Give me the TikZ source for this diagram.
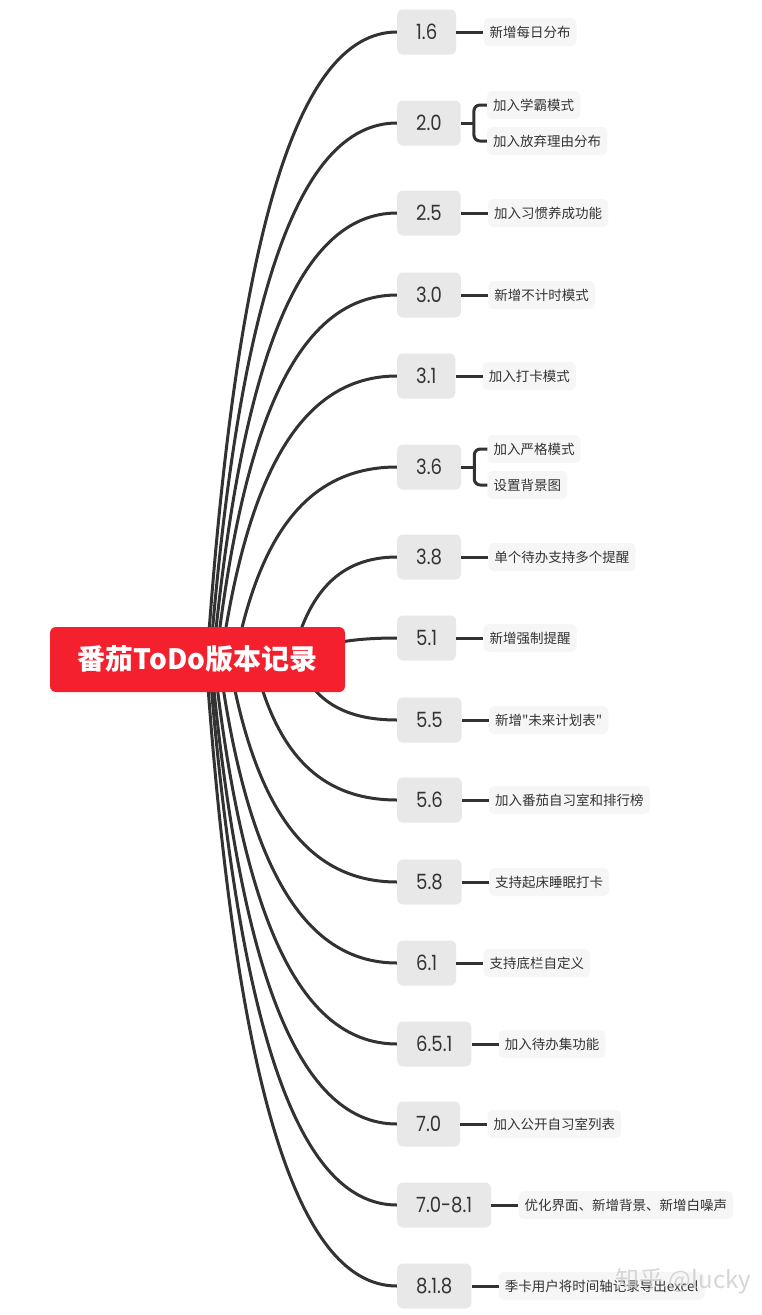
\documentclass[tikz,border=0pt]{standalone}
\usepackage{fontspec}
\newfontfamily\verfont{Poppins}[FakeStretch=0.86]
\newfontfamily\cjk{Noto Sans CJK SC}
\usetikzlibrary{positioning,calc,backgrounds}

\definecolor{rootred}{HTML}{F4202E}
\definecolor{vergray}{HTML}{E8E8E8}
\definecolor{leafgray}{HTML}{F6F6F6}
\definecolor{textgray}{HTML}{333333}
\definecolor{linegray}{HTML}{323232}

% curve from inside the root to the west side of a version box
\newcommand{\verbranch}[2]{%
  \draw[branch] let \p0=(root.center), \p1=(#2.west) in
    (#1pt,\y0) .. controls ({#1pt+0.15*(\x1-#1pt)},{\y0+0.65*(\y1-\y0)})
    and ({#1pt+0.45*(\x1-#1pt)},\y1) .. (\p1);}

\begin{document}
\begin{tikzpicture}[x=1pt, y=-1pt,
    root/.style={fill=rootred, rounded corners=6pt, minimum width=295pt, minimum height=65pt, inner sep=0pt, text=white, font=\cjk\bfseries\fontsize{28}{28}\selectfont},
    ver/.style={fill=vergray, rounded corners=6pt, minimum height=45pt, inner xsep=19pt, anchor=west, text=textgray, font=\verfont\fontsize{21}{21}\selectfont},
    leaf/.style={fill=leafgray, rounded corners=5pt, minimum height=28pt, inner xsep=6pt, text=textgray, font=\cjk\fontsize{13.5}{13.5}\selectfont},
    branch/.style={draw=linegray, line width=3pt},
    link/.style={draw=linegray, line width=3pt}
]
\useasboundingbox (0,0) rectangle (762,1315);

\node[root] (root) at (197.5,659.5) {番茄ToDo版本记录};

\node[ver] (v16) at (397,32) {1.6};
\node[ver] (v20) at (397,123) {2.0};
\node[ver] (v25) at (397,213) {2.5};
\node[ver] (v30) at (397,295) {3.0};
\node[ver] (v31) at (397,376) {3.1};
\node[ver] (v36) at (397,467) {3.6};
\node[ver] (v38) at (397,557) {3.8};
\node[ver] (v51) at (397,638) {5.1};
\node[ver] (v55) at (397,720) {5.5};
\node[ver] (v56) at (397,800) {5.6};
\node[ver] (v58) at (397,882) {5.8};
\node[ver] (v61) at (397,963) {6.1};
\node[ver] (v651) at (397,1044) {6.5.1};
\node[ver] (v70) at (397,1124) {7.0};
\node[ver] (v7081) at (397,1205) {7.0-8.1};
\node[ver] (v818) at (397,1286) {8.1.8};

\node[leaf, right=27pt of v16] (l16) {新增每日分布};
\node[leaf, anchor=west, xshift=26pt, yshift=18pt] (l20a) at (v20.east) {加入学霸模式};
\node[leaf, anchor=west, xshift=26pt, yshift=-18pt] (l20b) at (v20.east) {加入放弃理由分布};
\node[leaf, right=27pt of v25] (l25) {加入习惯养成功能};
\node[leaf, right=27pt of v30] (l30) {新增不计时模式};
\node[leaf, right=27pt of v31] (l31) {加入打卡模式};
\node[leaf, anchor=west, xshift=26pt, yshift=18pt] (l36a) at (v36.east) {加入严格模式};
\node[leaf, anchor=west, xshift=26pt, yshift=-18pt] (l36b) at (v36.east) {设置背景图};
\node[leaf, right=27pt of v38] (l38) {单个待办支持多个提醒};
\node[leaf, right=27pt of v51] (l51) {新增强制提醒};
\node[leaf, right=27pt of v55] (l55) {新增"未来计划表"};
\node[leaf, right=27pt of v56] (l56) {加入番茄自习室和排行榜};
\node[leaf, right=27pt of v58] (l58) {支持起床睡眠打卡};
\node[leaf, right=27pt of v61] (l61) {支持底栏自定义};
\node[leaf, right=27pt of v651] (l651) {加入待办集功能};
\node[leaf, right=27pt of v70] (l70) {加入公开自习室列表};
\node[leaf, right=27pt of v7081] (l7081) {优化界面、新增背景、新增白噪声};
\node[leaf, right=27pt of v818] (l818) {季卡用户将时间轴记录导出excel};

\coordinate (b20) at ([xshift=13pt]v20.east);
\coordinate (b36) at ([xshift=13pt]v36.east);

\begin{scope}[on background layer]
\fill[white] (0,0) rectangle (762,1315);
\verbranch{207}{v16}
\verbranch{210}{v20}
\verbranch{213}{v25}
\verbranch{216}{v30}
\verbranch{221}{v31}
\verbranch{235}{v36}
\verbranch{292}{v38}
\verbranch{300}{v51}
\verbranch{297}{v55}
\verbranch{254}{v56}
\verbranch{229}{v58}
\verbranch{219}{v61}
\verbranch{214}{v651}
\verbranch{211}{v70}
\verbranch{209}{v7081}
\verbranch{206}{v818}
\end{scope}

\draw[link] (v16) -- (l16);
\draw[link] (v20) -- (b20);
\draw[link, rounded corners=6pt] (l20a.west) -| (b20) |- (l20b.west);
\draw[link] (v25) -- (l25);
\draw[link] (v30) -- (l30);
\draw[link] (v31) -- (l31);
\draw[link] (v36) -- (b36);
\draw[link, rounded corners=6pt] (l36a.west) -| (b36) |- (l36b.west);
\draw[link] (v38) -- (l38);
\draw[link] (v51) -- (l51);
\draw[link] (v55) -- (l55);
\draw[link] (v56) -- (l56);
\draw[link] (v58) -- (l58);
\draw[link] (v61) -- (l61);
\draw[link] (v651) -- (l651);
\draw[link] (v70) -- (l70);
\draw[link] (v7081) -- (l7081);
\draw[link] (v818) -- (l818);

\node[anchor=west, text=gray!40, opacity=0.8, font=\cjk\fontsize{24}{24}\selectfont] (wmark) at (612,1281) {知乎 @lucky};
\end{tikzpicture}
\end{document}
